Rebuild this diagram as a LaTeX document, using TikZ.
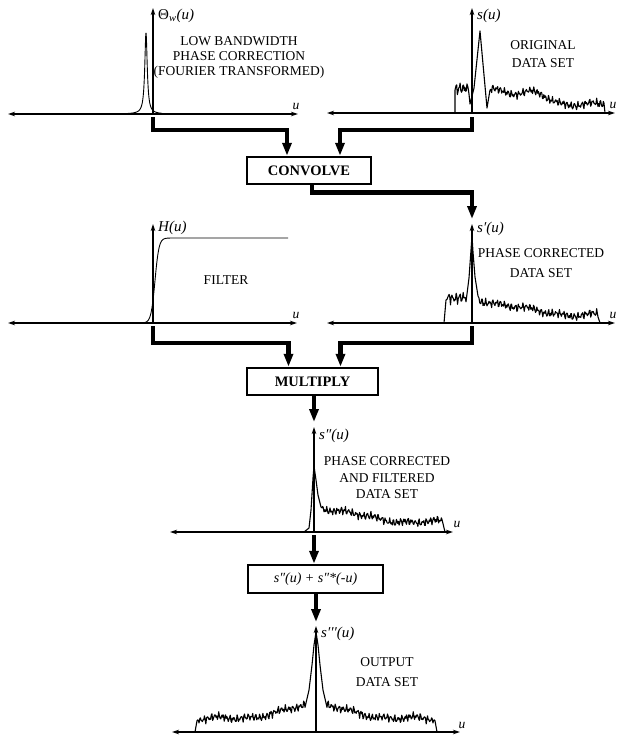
\documentclass[tikz,border=0pt]{standalone}
\usepackage{fontspec}
\setmainfont{Liberation Serif}
\usetikzlibrary{arrows.meta}
\begin{document}
\begin{tikzpicture}[x=1pt,y=-1pt,
  declare function={nz(\t)=0.45*sin(mod(\t,37)*97)+0.3*sin(mod(\t,23)*151+40)+0.25*sin(mod(\t,53)*211+70)+0.35*sin(\t*4.3)+0.25*sin(\t*11.7+20);},
  axis/.style={line width=1.4pt},
  haxis/.style={axis,{Stealth[length=7pt,width=4.5pt]}-{Stealth[length=7pt,width=4.5pt]}},
  vaxis/.style={axis,-{Stealth[length=7pt,width=4.5pt]}},
  sig/.style={line width=1.1pt,line join=round},
  conn/.style={line width=4.5pt,-{Triangle[length=13pt,width=9pt]}},
  box/.style={draw,line width=2.5pt,minimum height=27pt,inner sep=0pt,font=\fontsize{14.5}{16}\selectfont\bfseries},
  lbl/.style={font=\fontsize{15}{17}\selectfont\itshape,anchor=west,inner sep=0pt},
  desc/.style={font=\fontsize{13.5}{15}\selectfont,align=center,inner sep=0pt},
  ulbl/.style={font=\fontsize{13.5}{15}\selectfont\itshape,inner sep=0pt}
]
\useasboundingbox (0,0) rectangle (618,736);

% ---------- panel 1: phase correction ----------
\coordinate (o1) at (153,114);
\draw[haxis] (8,114) -- (298,114);
\draw[vaxis] (o1) -- (153,8);
\draw[sig,line width=0.9pt] plot[domain=126:162,samples=220] (\x,{114-81/(1+((\x-146)/1.5)^2)});
\node[lbl] (l1) at (158,16) {{\upshape Θ}\textsubscript{w}(u)};
\node[ulbl] (u1) at (296,106) {u};
\node[desc] (d1) at (239,57) {LOW BANDWIDTH\\PHASE CORRECTION\\(FOURIER TRANSFORMED)};

% ---------- panel 2: original data ----------
\coordinate (o2) at (472,113);
\draw[haxis] (327,113) -- (615,113);
\draw[vaxis] (o2) -- (472,8);
\draw[sig] (455,113) -- (455,90) -- plot[domain=456:469,samples=20] (\x,{113-24-7*nz(\x)}) -- (470,104) -- (474,88) -- (480,31) -- (487,108) -- (490,90) -- plot[domain=491:604,samples=170] (\x,{113-(7+19*exp(-(\x-491)/40)+7*exp(-((\x-537)/14)^2)+5*nz(\x))}) -- (605,113);
\node[lbl] (l2) at (477,16) {s(u)};
\node[ulbl] (u2) at (613,105) {u};
\node[desc] (d2) at (543,54) {ORIGINAL\\[3pt]DATA SET};

% ---------- convolve ----------
\node[box,minimum width=124pt] (conv) at (309,170.5) {CONVOLVE};
\coordinate (a1) at (153,117);
\coordinate (a2) at (472,117);
\draw[conn] (a1) -- ++(0,13) -| ([xshift=-22pt]conv.north);
\draw[conn] (a2) -- ++(0,13) -| ([xshift=31pt]conv.north);
\coordinate (t4) at (472,219);
\draw[conn] ([xshift=3pt]conv.south) -- ++(0,7) -| (t4);

% ---------- panel 3: filter ----------
\coordinate (o3) at (153,323);
\draw[haxis] (8,323) -- (297,323);
\draw[vaxis] (o3) -- (153,224);
\draw[sig,line width=0.9pt] plot[domain=143:172,samples=60] (\x,{323-85/(1+exp(-(\x-155)/2))}) -- (288,238);
\node[lbl] (l3) at (158,228) {H(u)};
\node[ulbl] (u3) at (296,315) {u};
\node[desc] (d3) at (226,280) {FILTER};

% ---------- panel 4: phase corrected ----------
\coordinate (o4) at (472,323);
\draw[haxis] (327,323) -- (615,323);
\draw[vaxis] (o4) -- (472,224);
\draw[sig] (444,323) -- (446,300) -- plot[domain=447:466,samples=28] (\x,{323-25-7*nz(\x)}) -- (469,278) -- (471,250) -- (472,236) -- (473,252) -- (475,277) -- (478,296) -- plot[domain=479:598,samples=180] (\x,{323-(6+19*exp(-(\x-479)/50)+5*nz(\x))}) -- (600,323);
\node[lbl] (l4) at (477,229) {s′(u)};
\node[ulbl] (u4) at (613,315) {u};
\node[desc] (d4) at (541,263) {PHASE CORRECTED\\[5pt]DATA SET};

% ---------- multiply ----------
\node[box,minimum width=131pt] (mult) at (312.5,381.5) {MULTIPLY};
\coordinate (a3) at (153,326);
\coordinate (a4) at (472,326);
\draw[conn] (a3) -- ++(0,17) -| ([xshift=-24pt]mult.north);
\draw[conn] (a4) -- ++(0,17) -| ([xshift=28pt]mult.north);
\coordinate (t5) at (314,422);
\draw[conn] (mult.south -| t5) -- (t5);

% ---------- panel 5: corrected and filtered ----------
\coordinate (o5) at (314,532);
\draw[haxis] (170,532) -- (453,532);
\draw[vaxis] (o5) -- (314,427);
\draw[line width=0.6pt,densely dotted] (270,531) -- (304,531);
\draw[sig] (304,532) -- (309,528) -- (311,510) -- (313,478) -- (314,466) -- (316,480) -- (318,495) -- (321,507) -- plot[domain=322:442,samples=180] (\x,{532-(7+18*exp(-(\x-322)/55)+5*nz(\x))}) -- (445,532);
\node[lbl] (l5) at (319,436) {s″(u)};
\node[ulbl] (u5) at (457,524) {u};
\node[desc] (d5) at (387,478) {PHASE CORRECTED\\[1.5pt]AND FILTERED\\[1.5pt]DATA SET};

% ---------- symmetrise ----------
\node[box,minimum width=135pt,minimum height=28pt,font=\fontsize{14}{16}\selectfont\itshape] (sym) at (315.5,579) {s″(u) + s″*(-u)};
\coordinate (a5) at (314,535);
\draw[conn] (a5) -- (a5 |- sym.north);
\coordinate (t6) at (316,622);
\draw[conn] (sym.south -| t6) -- (t6);

% ---------- panel 6: output ----------
\coordinate (o6) at (316,732);
\draw[haxis] (172,732) -- (460,732);
\draw[vaxis] (o6) -- (316,626);
\draw[sig] (195,732) -- plot[domain=197:305,samples=160] (\x,{732-(9+20*exp(-abs(\x-316)/60)+5*nz(abs(\x-316)))}) -- (309,690) -- (312,665) -- (314,645) -- (316,632) -- (318,645) -- (320,665) -- (323,690) -- plot[domain=327:435,samples=160] (\x,{732-(9+20*exp(-abs(\x-316)/60)+5*nz(abs(\x-316)))}) -- (437,732);
\node[lbl] (l6) at (321,634) {s′′′(u)};
\node[ulbl] (u6) at (462,725) {u};
\node[desc] (d6) at (387,672) {OUTPUT\\[5pt]DATA SET};
\end{tikzpicture}
\end{document}
